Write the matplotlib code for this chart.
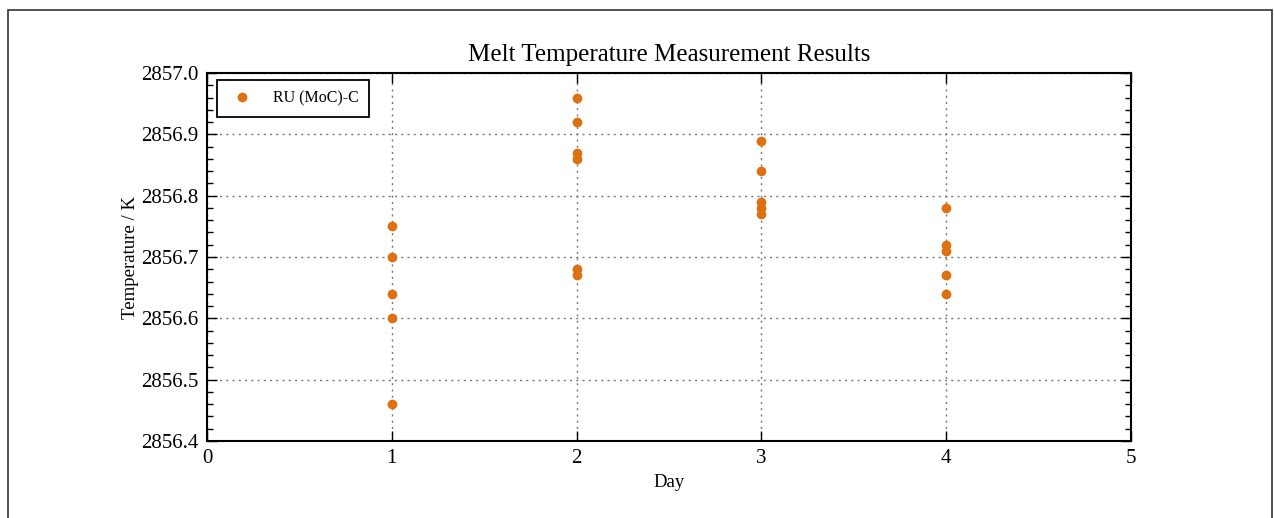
import matplotlib.pyplot as plt
from matplotlib.patches import Rectangle
from matplotlib.ticker import MultipleLocator

plt.rcParams['font.family'] = ['Liberation Serif', 'DejaVu Serif']

# melt temperature readings per day (K)
day1 = [2856.75, 2856.70, 2856.64, 2856.60, 2856.46]
day2 = [2856.96, 2856.92, 2856.87, 2856.86, 2856.68, 2856.67]
day3 = [2856.89, 2856.84, 2856.79, 2856.78, 2856.77]
day4 = [2856.78, 2856.72, 2856.71, 2856.67, 2856.64]
readings = [day1, day2, day3, day4]

days = []
temps = []
for d, vals in enumerate(readings, start=1):
    days += [d] * len(vals)
    temps += vals

fig = plt.figure(figsize=(12.74, 5.18), dpi=100)
ax = fig.add_axes([0.1625, 0.1486, 0.7253, 0.7104])

# thin frame around the whole figure
fig.patches.append(Rectangle((8 / 1274, -0.05), 1264 / 1274, 1.05 - 10 / 518,
                             transform=fig.transFigure, fill=False,
                             edgecolor='#333333', linewidth=1.2))

ax.plot(days, temps, 'o', color='#DD7011', markersize=6, label='RU (MoC)-C')

ax.set_xlim(0, 5)
ax.set_ylim(2856.4, 2857.0)
ax.xaxis.set_major_locator(MultipleLocator(1))
ax.yaxis.set_major_locator(MultipleLocator(0.1))
ax.yaxis.set_minor_locator(MultipleLocator(0.02))
ax.yaxis.set_major_formatter(plt.FormatStrFormatter('%.1f'))

ax.tick_params(which='both', direction='in', top=True, right=True, labelsize=15)
ax.tick_params(which='major', length=7, width=1)
ax.tick_params(which='minor', length=4, width=1)
ax.tick_params(axis='x', which='major', pad=6)
ax.tick_params(axis='y', which='major', pad=6)
for s in ax.spines.values():
    s.set_linewidth(1.5)

ax.grid(True, which='major', linestyle=(0, (1.5, 3)), color='#777777', linewidth=1)

ax.set_title('Melt Temperature Measurement Results', fontsize=18, pad=9)
ax.set_xlabel('Day', fontsize=13.5)
ax.set_ylabel('Temperature / K', fontsize=13.5, labelpad=2)

leg = ax.legend(loc='upper left', fontsize=11.5, fancybox=False, edgecolor='black',
                framealpha=1, handlelength=1.75, handletextpad=1.1, borderpad=0.65,
                borderaxespad=0, bbox_to_anchor=(0.011, 0.981))
leg.get_frame().set_linewidth(1.3)

fig.savefig('out.png', dpi=100)
